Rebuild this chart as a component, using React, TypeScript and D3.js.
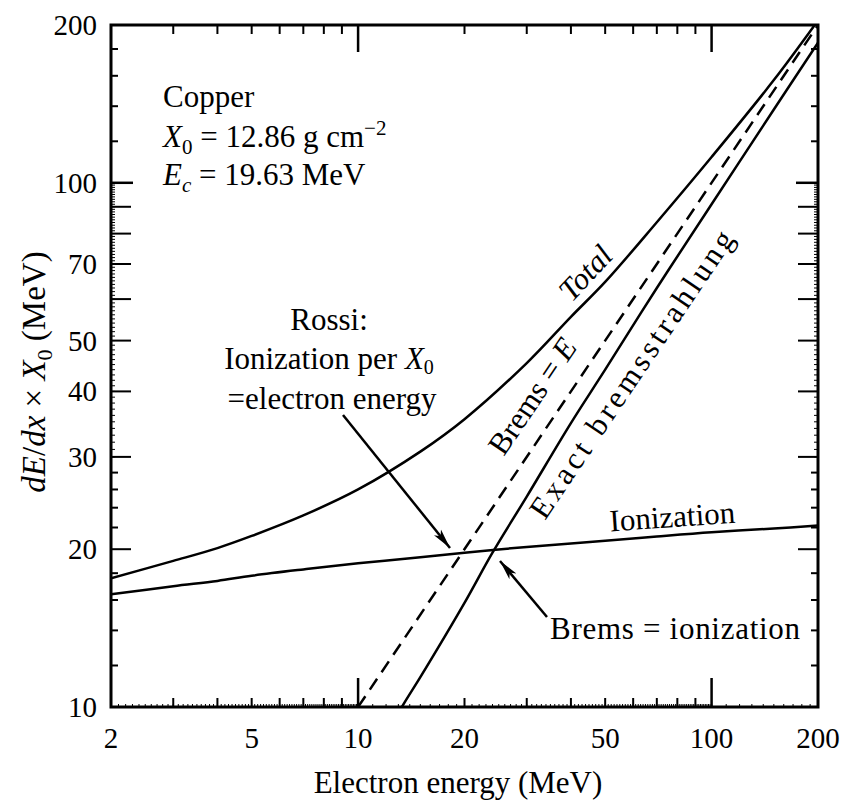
import React from 'react';
import * as d3 from 'd3';

// values (MeV)
const energy = [2, 3, 4, 5, 7, 10, 15, 20, 30, 40, 50, 70, 100, 150, 200];
const ionization = [16.4, 17.0, 17.4, 17.8, 18.3, 18.8, 19.3, 19.7, 20.2, 20.5, 20.75, 21.15, 21.55, 21.9, 22.2];
const total = [17.6, 19.0, 20.1, 21.2, 23.2, 26.0, 30.7, 35.4, 45.3, 55.5, 64.7, 84.1, 112, 157, 204];

const bremsEnergy = [10, 13.3, 15, 20, 24, 30, 40, 50, 70, 100, 150, 200];
const bremsExact = [7.1, 10, 11.4, 15.8, 19.7, 25.2, 34.8, 44, 63, 91, 138, 185];

const rossiEnergy = [10, 200];
const rossiBrems = [10, 200];

const xTickLabels = [2, 5, 10, 20, 50, 100, 200];
const yTickLabels = [10, 20, 30, 40, 50, 70, 100, 200];

const FONT = '"Liberation Serif", "Times New Roman", serif';

const range = (a: number, b: number, step: number) => {
  const out: number[] = [];
  for (let v = a; v <= b + 1e-9; v += step) out.push(Math.round(v * 1000) / 1000);
  return out;
};

const App: React.FC = () => {
  const left = 111, right = 818, top = 25, bottom = 707;
  const x = d3.scaleLog().domain([2, 200]).range([left, right]);
  const y = d3.scaleLog().domain([10, 200]).range([bottom, top]);

  const line = d3.line<[number, number]>()
    .x(d => x(d[0]))
    .y(d => y(d[1]))
    .curve(d3.curveCatmullRom.alpha(0.5));

  const pairs = (xs: number[], ys: number[]) => xs.map((v, i) => [v, ys[i]] as [number, number]);

  // x ticks
  const xMajor = [10, 100];
  const xMinor = [...range(3, 9, 1), ...range(20, 90, 10)];
  const xFine = [...range(2, 10, 0.1), ...range(10, 100, 1), ...range(100, 200, 10)];
  // y ticks
  const yMajor = [100];
  const yMid = range(20, 90, 10);
  const ySmall = [...range(12, 18, 2), ...range(22, 28, 2), ...range(120, 180, 20)];
  const yFine = range(30, 100, 1);

  const stroke = '#000';

  return (
    <svg width={846} height={800}
      style={{ position: 'absolute', left: 0, top: 0, background: '#fff', fontFamily: FONT }}>
      <defs>
        <clipPath id="plot">
          <rect x={left} y={top} width={right - left} height={bottom - top} />
        </clipPath>
        <marker id="arrow" viewBox="0 0 20 10" refX="20" refY="5" markerWidth="20" markerHeight="10"
          markerUnits="userSpaceOnUse" orient="auto">
          <path d="M0,0.5 L20,5 L0,9.5 L5,5 Z" fill="#000" />
        </marker>
      </defs>

      {/* frame */}
      <rect x={left} y={top} width={right - left} height={bottom - top} fill="none" stroke={stroke} strokeWidth={3} />

      {/* bottom & top ticks */}
      <g stroke={stroke}>
        {xFine.map(v => (
          <line key={'xf' + v} x1={x(v)} x2={x(v)} y1={bottom} y2={bottom - 3} strokeWidth={1} />
        ))}
        {xMinor.map(v => (
          <g key={'xm' + v} strokeWidth={2}>
            <line x1={x(v)} x2={x(v)} y1={bottom} y2={bottom - 9} />
            <line x1={x(v)} x2={x(v)} y1={top} y2={top + 9} />
          </g>
        ))}
        {xMajor.map(v => (
          <g key={'xM' + v} strokeWidth={2.5}>
            <line x1={x(v)} x2={x(v)} y1={bottom} y2={bottom - 29} />
            <line x1={x(v)} x2={x(v)} y1={top} y2={top + 27} />
          </g>
        ))}
      </g>

      {/* left & right ticks */}
      <g stroke={stroke}>
        {yFine.map(v => (
          <g key={'yf' + v} strokeWidth={1}>
            <line x1={left} x2={left + 4} y1={y(v)} y2={y(v)} />
            <line x1={right} x2={right - 4} y1={y(v)} y2={y(v)} />
          </g>
        ))}
        {ySmall.map(v => (
          <g key={'ys' + v} strokeWidth={2}>
            <line x1={left} x2={left + 7} y1={y(v)} y2={y(v)} />
            <line x1={right} x2={right - 7} y1={y(v)} y2={y(v)} />
          </g>
        ))}
        {yMid.map(v => (
          <g key={'ym' + v} strokeWidth={2}>
            <line x1={left} x2={left + 20} y1={y(v)} y2={y(v)} />
            <line x1={right} x2={right - 20} y1={y(v)} y2={y(v)} />
          </g>
        ))}
        {yMajor.map(v => (
          <g key={'yM' + v} strokeWidth={2.5}>
            <line x1={left} x2={left + 22} y1={y(v)} y2={y(v)} />
            <line x1={right} x2={right - 22} y1={y(v)} y2={y(v)} />
          </g>
        ))}
      </g>

      {/* tick labels */}
      <g fontSize={29} fill="#000">
        {xTickLabels.map(v => (
          <text key={'xl' + v} x={x(v)} y={748} textAnchor="middle">{v}</text>
        ))}
        {yTickLabels.map(v => (
          <text key={'yl' + v} x={97} y={y(v) + 10} textAnchor="end">{v}</text>
        ))}
      </g>

      {/* curves */}
      <g clipPath="url(#plot)" fill="none" stroke={stroke} strokeWidth={2.5}>
        <path d={line(pairs(energy, ionization)) || ''} />
        <path d={line(pairs(energy, total)) || ''} />
        <path d={line(pairs(bremsEnergy, bremsExact)) || ''} />
        <path d={line(pairs(rossiEnergy, rossiBrems)) || ''} strokeDasharray="13 8" />
      </g>

      {/* arrows */}
      <g stroke={stroke} strokeWidth={2.5} fill="none">
        <line x1={343} y1={415} x2={450} y2={548} markerEnd="url(#arrow)" />
        <line x1={547} y1={617} x2={500} y2={561} markerEnd="url(#arrow)" />
      </g>

      {/* annotations */}
      <g fontSize={31} fill="#000">
        <text x={163} y={107}>Copper</text>
        <text x={163} y={147}>
          <tspan fontStyle="italic">X</tspan>
          <tspan fontSize={21} dy={7}>0</tspan>
          <tspan dy={-7}> = 12.86 g cm</tspan>
          <tspan fontSize={21} dy={-12}>−2</tspan>
        </text>
        <text x={163} y={185}>
          <tspan fontStyle="italic">E</tspan>
          <tspan fontSize={21} dy={7} fontStyle="italic">c</tspan>
          <tspan dy={-7}> = 19.63 MeV</tspan>
        </text>

        <text x={329} y={330} textAnchor="middle">Rossi:</text>
        <text x={329} y={369} textAnchor="middle">
          Ionization per <tspan fontStyle="italic">X</tspan>
          <tspan fontSize={20} dy={5}>0</tspan>
        </text>
        <text x={332} y={409} textAnchor="middle">=electron energy</text>

        <text x={550} y={639} textLength={250}>Brems = ionization</text>

        <text transform="translate(673,527) rotate(-4)" textAnchor="middle">Ionization</text>
        <text transform="translate(593,280) rotate(-47)" textAnchor="middle" fontStyle="italic">Total</text>
        <text transform="translate(541,402) rotate(-56)" textAnchor="middle">
          Brems = <tspan fontStyle="italic">E</tspan>
        </text>
        <text transform="translate(640,380) rotate(-56)" textAnchor="middle" textLength={340}>Exact bremsstrahlung</text>
      </g>

      {/* axis titles */}
      <text x={458} y={793} fontSize={31} textAnchor="middle">Electron energy (MeV)</text>
      <text transform="translate(45,372) rotate(-90)" fontSize={33} textAnchor="middle">
        <tspan fontStyle="italic">dE</tspan>/<tspan fontStyle="italic">dx</tspan> × <tspan fontStyle="italic">X</tspan>
        <tspan fontSize={22} dy={7}>0</tspan>
        <tspan dy={-7}> (MeV)</tspan>
      </text>
    </svg>
  );
};

export default App;
